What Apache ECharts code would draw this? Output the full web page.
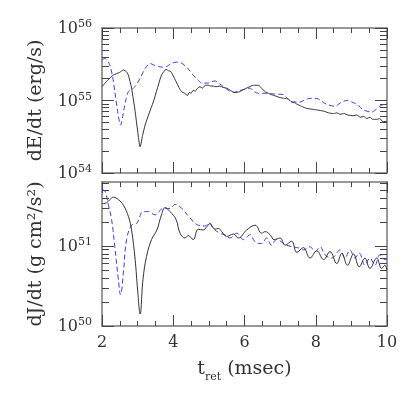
<!DOCTYPE html>
<html>
<head>
<meta charset="utf-8">
<script src="https://cdn.jsdelivr.net/npm/echarts@6/dist/echarts.min.js"></script>
<style>
html, body { margin: 0; padding: 0; background: #fff; }
#main { width: 415px; height: 415px; }
</style>
</head>
<body>
<div id="main"></div>
<script>
// values are [t_ret (msec), log10 of the quantity]
const dEdtSolid = [
  [2.0, 55.19], [2.16, 55.28], [2.32, 55.35], [2.5, 55.39], [2.6, 55.42], [2.68, 55.40],
  [2.74, 55.35], [2.83, 55.17], [2.93, 54.85], [3.0, 54.58], [3.07, 54.36], [3.14, 54.52],
  [3.21, 54.66], [3.32, 54.82], [3.44, 54.98], [3.55, 55.16], [3.67, 55.35], [3.80, 55.43],
  [3.87, 55.41], [3.93, 55.40], [4.02, 55.32], [4.10, 55.24], [4.18, 55.16], [4.24, 55.12],
  [4.32, 55.10], [4.40, 55.07], [4.45, 55.11], [4.50, 55.10], [4.56, 55.14], [4.62, 55.13],
  [4.68, 55.17], [4.75, 55.19], [4.82, 55.17], [4.90, 55.21], [4.98, 55.21], [5.05, 55.20],
  [5.12, 55.20], [5.2, 55.19], [5.3, 55.20], [5.4, 55.18], [5.5, 55.17], [5.6, 55.14],
  [5.73, 55.11], [5.85, 55.12], [5.97, 55.15], [6.1, 55.18], [6.25, 55.21], [6.39, 55.21],
  [6.48, 55.17], [6.58, 55.12], [6.67, 55.10], [6.76, 55.08], [6.88, 55.06], [7.0, 55.04],
  [7.12, 55.03], [7.23, 55.02], [7.32, 54.98], [7.40, 54.97], [7.47, 54.95], [7.6, 54.92],
  [7.75, 54.89], [7.9, 54.88], [8.03, 54.87], [8.15, 54.86], [8.25, 54.85], [8.35, 54.83],
  [8.5, 54.82], [8.6, 54.83], [8.68, 54.81], [8.8, 54.82], [8.9, 54.80], [9.05, 54.79],
  [9.15, 54.80], [9.25, 54.77], [9.35, 54.78], [9.43, 54.75], [9.52, 54.77], [9.6, 54.74],
  [9.71, 54.74], [9.8, 54.75], [9.88, 54.71], [10.0, 54.71]
];
const dEdtDashed = [
  [2.0, 55.56], [2.08, 55.58], [2.15, 55.55], [2.22, 55.49], [2.30, 55.32], [2.36, 55.12],
  [2.44, 54.85], [2.52, 54.66], [2.58, 54.78], [2.62, 54.89], [2.68, 55.03], [2.74, 55.12],
  [2.88, 55.17], [2.97, 55.22], [3.07, 55.31], [3.21, 55.44], [3.35, 55.51], [3.45, 55.49],
  [3.58, 55.47], [3.70, 55.46], [3.82, 55.47], [3.95, 55.51], [4.10, 55.53], [4.22, 55.52],
  [4.33, 55.48], [4.45, 55.42], [4.56, 55.35], [4.68, 55.29], [4.80, 55.24], [4.98, 55.24],
  [5.08, 55.26], [5.17, 55.27], [5.30, 55.23], [5.41, 55.19], [5.55, 55.14], [5.69, 55.11],
  [5.82, 55.13], [5.97, 55.15], [6.15, 55.17], [6.28, 55.12], [6.39, 55.10], [6.58, 55.10],
  [6.81, 55.09], [7.09, 55.08], [7.2, 55.03], [7.32, 54.98], [7.56, 54.98], [7.70, 55.01],
  [7.84, 55.03], [8.08, 55.02], [8.22, 54.97], [8.35, 54.94], [8.54, 54.92], [8.7, 54.97],
  [8.87, 55.00], [9.10, 54.96], [9.22, 54.92], [9.34, 54.87], [9.57, 54.84], [9.70, 54.88],
  [9.80, 54.92], [9.94, 54.95], [10.0, 54.95]
];
const dJdtSolid = [
  [2.0, 51.53], [2.13, 51.54], [2.22, 51.58], [2.32, 51.61], [2.46, 51.58], [2.6, 51.51],
  [2.74, 51.37], [2.83, 51.20], [2.93, 50.83], [3.0, 50.45], [3.07, 50.15], [3.15, 50.58],
  [3.25, 50.87], [3.39, 51.08], [3.54, 51.20], [3.67, 51.39], [3.77, 51.48], [3.91, 51.43],
  [4.08, 51.33], [4.19, 51.16], [4.33, 51.10], [4.42, 51.13], [4.56, 51.08], [4.70, 51.21],
  [4.84, 51.20], [4.94, 51.24], [5.03, 51.28], [5.17, 51.21], [5.27, 51.22], [5.36, 51.18],
  [5.50, 51.12], [5.69, 51.15], [5.83, 51.10], [6.06, 51.20], [6.30, 51.26], [6.48, 51.16],
  [6.58, 51.18], [6.72, 51.14], [6.83, 51.08], [7.0, 51.10], [7.14, 51.01], [7.32, 51.06],
  [7.47, 50.92], [7.65, 50.98], [7.84, 50.85], [8.03, 50.94], [8.22, 50.83], [8.40, 50.93],
  [8.59, 50.78], [8.73, 50.91], [8.89, 50.76], [9.06, 50.90], [9.22, 50.74], [9.38, 50.85],
  [9.52, 50.72], [9.71, 50.85], [9.85, 50.72], [9.94, 50.76], [10.0, 50.70]
];
const dJdtDashed = [
  [2.0, 51.70], [2.08, 51.69], [2.18, 51.51], [2.27, 51.33], [2.36, 50.99], [2.46, 50.58],
  [2.52, 50.39], [2.6, 50.66], [2.69, 51.08], [2.83, 51.26], [2.97, 51.28], [3.16, 51.43],
  [3.30, 51.43], [3.49, 51.39], [3.72, 51.47], [3.91, 51.47], [4.05, 51.52], [4.24, 51.47],
  [4.47, 51.35], [4.70, 51.26], [4.89, 51.25], [5.01, 51.29], [5.12, 51.22], [5.31, 51.16],
  [5.45, 51.14], [5.59, 51.10], [5.78, 51.16], [5.97, 51.08], [6.15, 51.14], [6.30, 51.05],
  [6.48, 51.03], [6.62, 51.10], [6.76, 51.01], [6.90, 51.08], [7.18, 51.01], [7.37, 50.99],
  [7.56, 50.97], [7.65, 50.95], [7.84, 50.99], [7.98, 50.93], [8.12, 50.99], [8.26, 50.89],
  [8.45, 50.85], [8.68, 50.95], [8.82, 50.85], [8.96, 50.95], [9.10, 50.85], [9.22, 50.91],
  [9.38, 50.76], [9.52, 50.85], [9.66, 50.76], [9.80, 50.89], [9.94, 50.83], [10.0, 50.84]
];

const xTicks = [2, 4, 6, 8, 10];
const topDecades = [54, 55, 56];
const bottomDecades = [50, 51];
const minorMultipliers = [2, 3, 4, 5, 6, 7, 8, 9];

const serif = 'DejaVu Serif';
const frameColor = '#777';
const textColor = '#333';

function minorLogTicks(decades, max) {
  const out = [];
  decades.forEach(d => minorMultipliers.forEach(m => {
    const v = d + Math.log10(m);
    if (v < max) out.push(v);
  }));
  return out;
}

function xAxisFor(grid, position, labels) {
  return {
    type: 'value', gridIndex: grid, position: position,
    min: 2, max: 10, interval: 2,
    axisLine: { show: true, lineStyle: { color: frameColor, width: 1.5 } },
    axisTick: { show: true, inside: true, length: 11, lineStyle: { color: '#444', width: 1 } },
    minorTick: { show: true, splitNumber: 4, length: 5, lineStyle: { color: '#444', width: 1 } },
    splitLine: { show: false },
    axisLabel: {
      show: labels, margin: 9, color: textColor, fontFamily: serif, fontSize: 16,
      customValues: xTicks
    }
  };
}

function yAxisFor(grid, position, min, max, ticks, major, labels, name) {
  return {
    type: 'value', gridIndex: grid, position: position,
    min: min, max: max,
    name: name || '', nameLocation: 'middle', nameRotate: 90, nameGap: 56,
    nameTextStyle: {
      fontFamily: serif, fontSize: 19, color: textColor
    },
    axisLine: { show: major, lineStyle: { color: frameColor, width: 1.5 } },
    axisTick: {
      show: true, inside: true, length: major ? 12 : 7,
      customValues: ticks, lineStyle: { color: '#444', width: 1 }
    },
    splitLine: { show: false },
    axisLabel: {
      show: labels, margin: 10, customValues: ticks,
      formatter: v => '{b|10}{s|' + Math.round(v) + '}',
      rich: {
        b: { fontFamily: serif, fontSize: 16, lineHeight: 18, color: textColor, verticalAlign: 'bottom' },
        s: { fontFamily: serif, fontSize: 11, lineHeight: 11, color: textColor, verticalAlign: 'top' }
      }
    }
  };
}

const topMinor = minorLogTicks([54, 55], 56);
const bottomMinor = minorLogTicks(bottomDecades, 51.8);

const chart = echarts.init(document.getElementById('main'));
const bottomX = xAxisFor(1, 'bottom', true);
bottomX.name = '{t|t}{r|ret}{t| (msec)}';
bottomX.nameLocation = 'middle';
bottomX.nameGap = 34;
bottomX.nameTextStyle = {
  rich: {
    t: { fontFamily: serif, fontSize: 19, lineHeight: 23, color: textColor, verticalAlign: 'top' },
    r: { fontFamily: serif, fontSize: 11, lineHeight: 11, color: textColor, verticalAlign: 'bottom' }
  }
};

chart.setOption({
  animation: false,
  backgroundColor: '#fff',
  grid: [
    { left: 102, top: 28, width: 285, height: 145 },
    { left: 102, top: 182, width: 285, height: 144 }
  ],
  xAxis: [
    xAxisFor(0, 'bottom', false),
    xAxisFor(0, 'top', false),
    bottomX,
    xAxisFor(1, 'top', false)
  ],
  yAxis: [
    yAxisFor(0, 'left', 54, 56, topDecades, true, true, 'dE/dt (erg/s)'),
    yAxisFor(0, 'left', 54, 56, topMinor, false, false),
    yAxisFor(0, 'right', 54, 56, topDecades, true, false),
    yAxisFor(0, 'right', 54, 56, topMinor, false, false),
    yAxisFor(1, 'left', 50, 51.8, bottomDecades, true, true, 'dJ/dt (g cm²/s²)'),
    yAxisFor(1, 'left', 50, 51.8, bottomMinor, false, false),
    yAxisFor(1, 'right', 50, 51.8, bottomDecades, true, false),
    yAxisFor(1, 'right', 50, 51.8, bottomMinor, false, false)
  ],
  series: [
    {
      type: 'line', xAxisIndex: 0, yAxisIndex: 0, data: dEdtDashed,
      symbol: 'none', smooth: 0.3,
      lineStyle: { color: '#3c3cff', width: 1, type: [5, 3] }
    },
    {
      type: 'line', xAxisIndex: 0, yAxisIndex: 0, data: dEdtSolid,
      symbol: 'none', smooth: 0.2,
      lineStyle: { color: '#333', width: 1 }
    },
    {
      type: 'line', xAxisIndex: 2, yAxisIndex: 4, data: dJdtDashed,
      symbol: 'none', smooth: 0.4,
      lineStyle: { color: '#3c3cff', width: 1, type: [5, 3] }
    },
    {
      type: 'line', xAxisIndex: 2, yAxisIndex: 4, data: dJdtSolid,
      symbol: 'none', smooth: 0.4,
      lineStyle: { color: '#333', width: 1 }
    }
  ]
});
</script>
</body>
</html>
